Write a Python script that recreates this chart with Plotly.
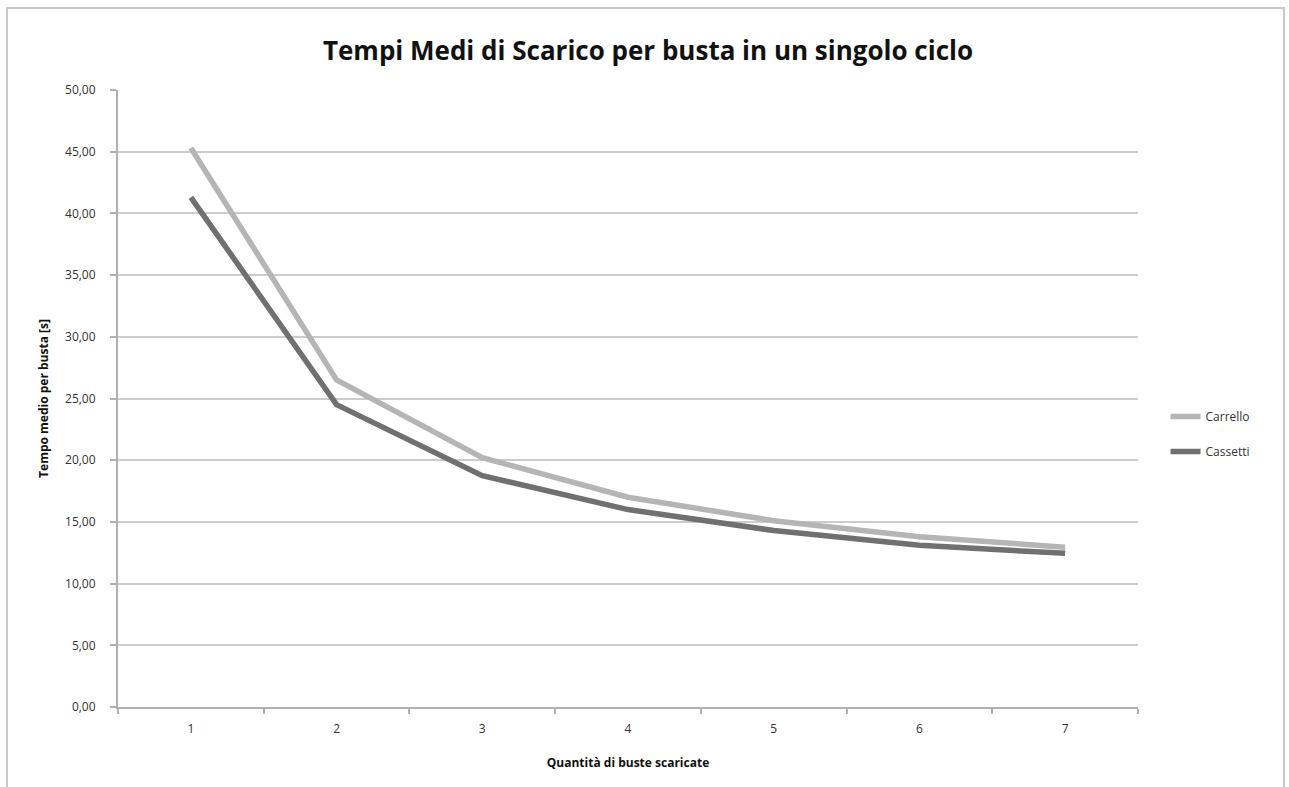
import plotly.graph_objects as go

categories = ["1", "2", "3", "4", "5", "6", "7"]
carrello = [45.3, 26.5, 20.2, 17.0, 15.1, 13.8, 12.95]
cassetti = [41.3, 24.5, 18.75, 16.0, 14.3, 13.1, 12.45]
y_ticks = [0, 5, 10, 15, 20, 25, 30, 35, 40, 45, 50]

FONT = "Open Sans"

fig = go.Figure()
fig.add_trace(go.Scatter(x=categories, y=carrello, mode="lines", name="Carrello",
                         legendgroup="a",
                         line=dict(color="#b5b5b5", width=5.5)))
fig.add_trace(go.Scatter(x=categories, y=cassetti, mode="lines", name="Cassetti",
                         legendgroup="b",
                         line=dict(color="#707070", width=5.5)))

fig.update_layout(
    width=1289, height=787,
    margin=dict(l=118, r=151, t=90, b=80),
    paper_bgcolor="white", plot_bgcolor="white",
    separators=",.",
    font=dict(family=FONT, size=12, color="#333333"),
    title=dict(text="<b>Tempi Medi di Scarico per busta in un singolo ciclo</b>",
               x=(648) / 1289, xanchor="center", y=1 - 51 / 787, yanchor="middle",
               font=dict(family=FONT, size=26, color="#111111")),
    showlegend=True,
    legend=dict(x=1.027, y=(707 - 434) / 617, xanchor="left", yanchor="middle",
                font=dict(family=FONT, size=12, color="#333333"),
                tracegroupgap=16, itemwidth=30, bgcolor="rgba(0,0,0,0)"),
    xaxis=dict(type="category", categoryorder="array", categoryarray=categories,
               range=[-0.5, 6.5],
               tickson="boundaries", ticks="outside", ticklen=5, tickcolor="#b0b0b0",
               tickwidth=1.5, ticklabelstandoff=10,
               showline=True, linecolor="#b0b0b0", linewidth=2, showgrid=False,
               zeroline=False,
               tickfont=dict(family=FONT, size=12, color="#333333"),
               title=dict(text="<b>Quantità di buste scaricate</b>", standoff=22,
                          font=dict(family=FONT, size=12, color="#111111"))),
    yaxis=dict(range=[0, 50], tickmode="array", tickvals=y_ticks, tickformat=".2f",
               ticks="outside", ticklen=6, tickcolor="#b0b0b0", tickwidth=1.5,
               ticklabelstandoff=12,
               showline=True, linecolor="#b0b0b0", linewidth=2,
               showgrid=True, gridcolor="#cccccc", gridwidth=2, zeroline=False,
               tickfont=dict(family=FONT, size=12, color="#333333"),
               title=dict(text="<b>Tempo medio per busta [s]</b>", standoff=14,
                          font=dict(family=FONT, size=12, color="#111111"))),
)

# outer chart border
fig.add_shape(type="rect", xref="paper", yref="paper",
              x0=(7 - 118) / 1020, x1=(1284 - 118) / 1020,
              y0=(707 - 800) / 617, y1=(707 - 8) / 617,
              line=dict(color="#c8c8c8", width=2), fillcolor="rgba(0,0,0,0)", layer="below")

fig.write_html("out.html")
